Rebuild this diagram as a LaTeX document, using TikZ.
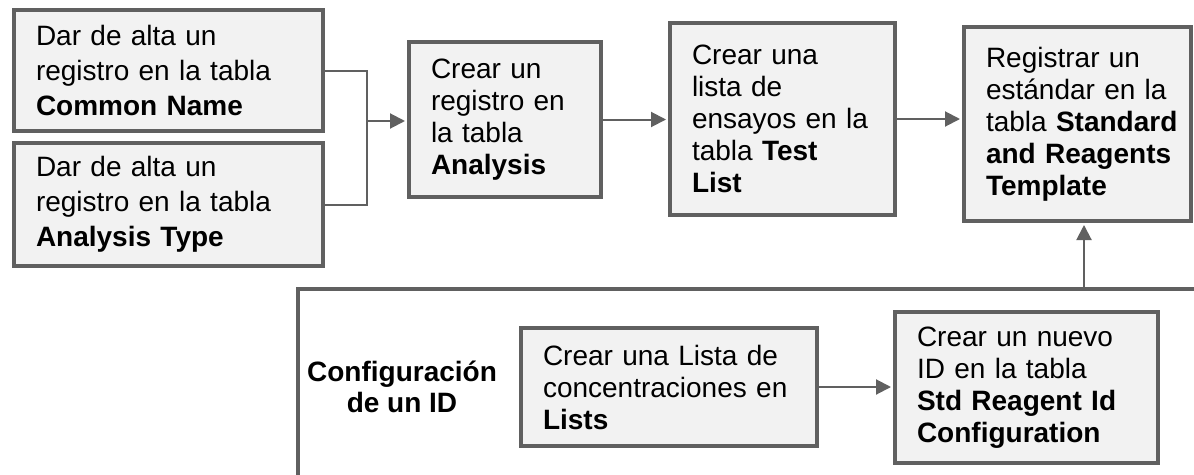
\documentclass[tikz,border=0pt]{standalone}
\usepackage{fontspec}
\setmainfont{Liberation Sans}
\usetikzlibrary{arrows.meta}
\definecolor{borde}{HTML}{606060}
\definecolor{relleno}{HTML}{F2F2F2}

\begin{document}
\begin{tikzpicture}[x=1pt,y=-1pt,
    paso/.style 2 args={draw=borde, fill=relleno, line width=4pt, inner xsep=12pt,
      minimum width=#1pt, minimum height=#2pt, text width=#1pt-24pt, align=left,
      font={\fontsize{28}{32}\selectfont}, execute at begin node={\leftskip=10pt}},
    linea/.style={draw=borde, line width=2pt},
    flecha/.style={linea, -{Triangle[length=15pt,width=15pt]}, shorten >=2pt},
    marco/.style={draw=borde, line width=4.5pt}]
	\path[use as bounding box, fill=white] (0,0) rectangle (1194,474);
	\clip (0,0) rectangle (1194,474);

            \node[paso={309}{121}, font={\fontsize{28}{35}\selectfont}] (alta1) at (168.5,70.5) {Dar de alta un\\ registro en la tabla\\ \textbf{Common Name}};
            \node[paso={309}{123}, font={\fontsize{28}{35}\selectfont}] (alta2) at (168.5,204.5) {Dar de alta un\\ registro en la tabla\\ \textbf{Analysis Type}};
            \node[paso={192}{155}] (analisis) at (505,119.5) {Crear un\\ registro en\\ la tabla\\ \textbf{Analysis}};
            \node[paso={225}{192}] (ensayos) at (782.5,119) {Crear una\\ lista de\\ ensayos en la\\ tabla \textbf{Test}\\ \textbf{List}};
            \node[paso={227}{194}] (estandar) at (1077.5,124) {Registrar un\\ estándar en la\\ tabla \textbf{Standard}\\ \textbf{and Reagents}\\ \textbf{Template}};

            % marco abierto de la configuracion
            \draw[marco] (298,490) |- (1210,289);
            \coordinate (base) at (1084,289);

            \node[align=center, font={\bfseries\fontsize{28}{31}\selectfont}] (config) at (402,387) {Configuración\\ de un ID};
            \node[paso={296}{118}] (lista) at (669,387) {Crear una Lista de\\ concentraciones en\\ \textbf{Lists}};
            \node[paso={263}{151}] (nuevoid) at (1026.5,387.5) {Crear un nuevo\\ ID en la tabla\\ \textbf{Std Reagent Id}\\ \textbf{Configuration}};

            \coordinate (junta) at (367,121);
            \draw[linea] (alta1.east) -| (junta) |- (alta2.east);
            \draw[flecha] (junta) -- (junta -| analisis.west);
            \draw[flecha] (analisis.east) -- (analisis.east -| ensayos.west);
            \draw[flecha] (ensayos.east) -- (ensayos.east -| estandar.west);
            \draw[flecha] (lista.east) -- (lista.east -| nuevoid.west);
            \draw[flecha] (base) -- (base |- estandar.south);
        \end{tikzpicture}
\end{document}
